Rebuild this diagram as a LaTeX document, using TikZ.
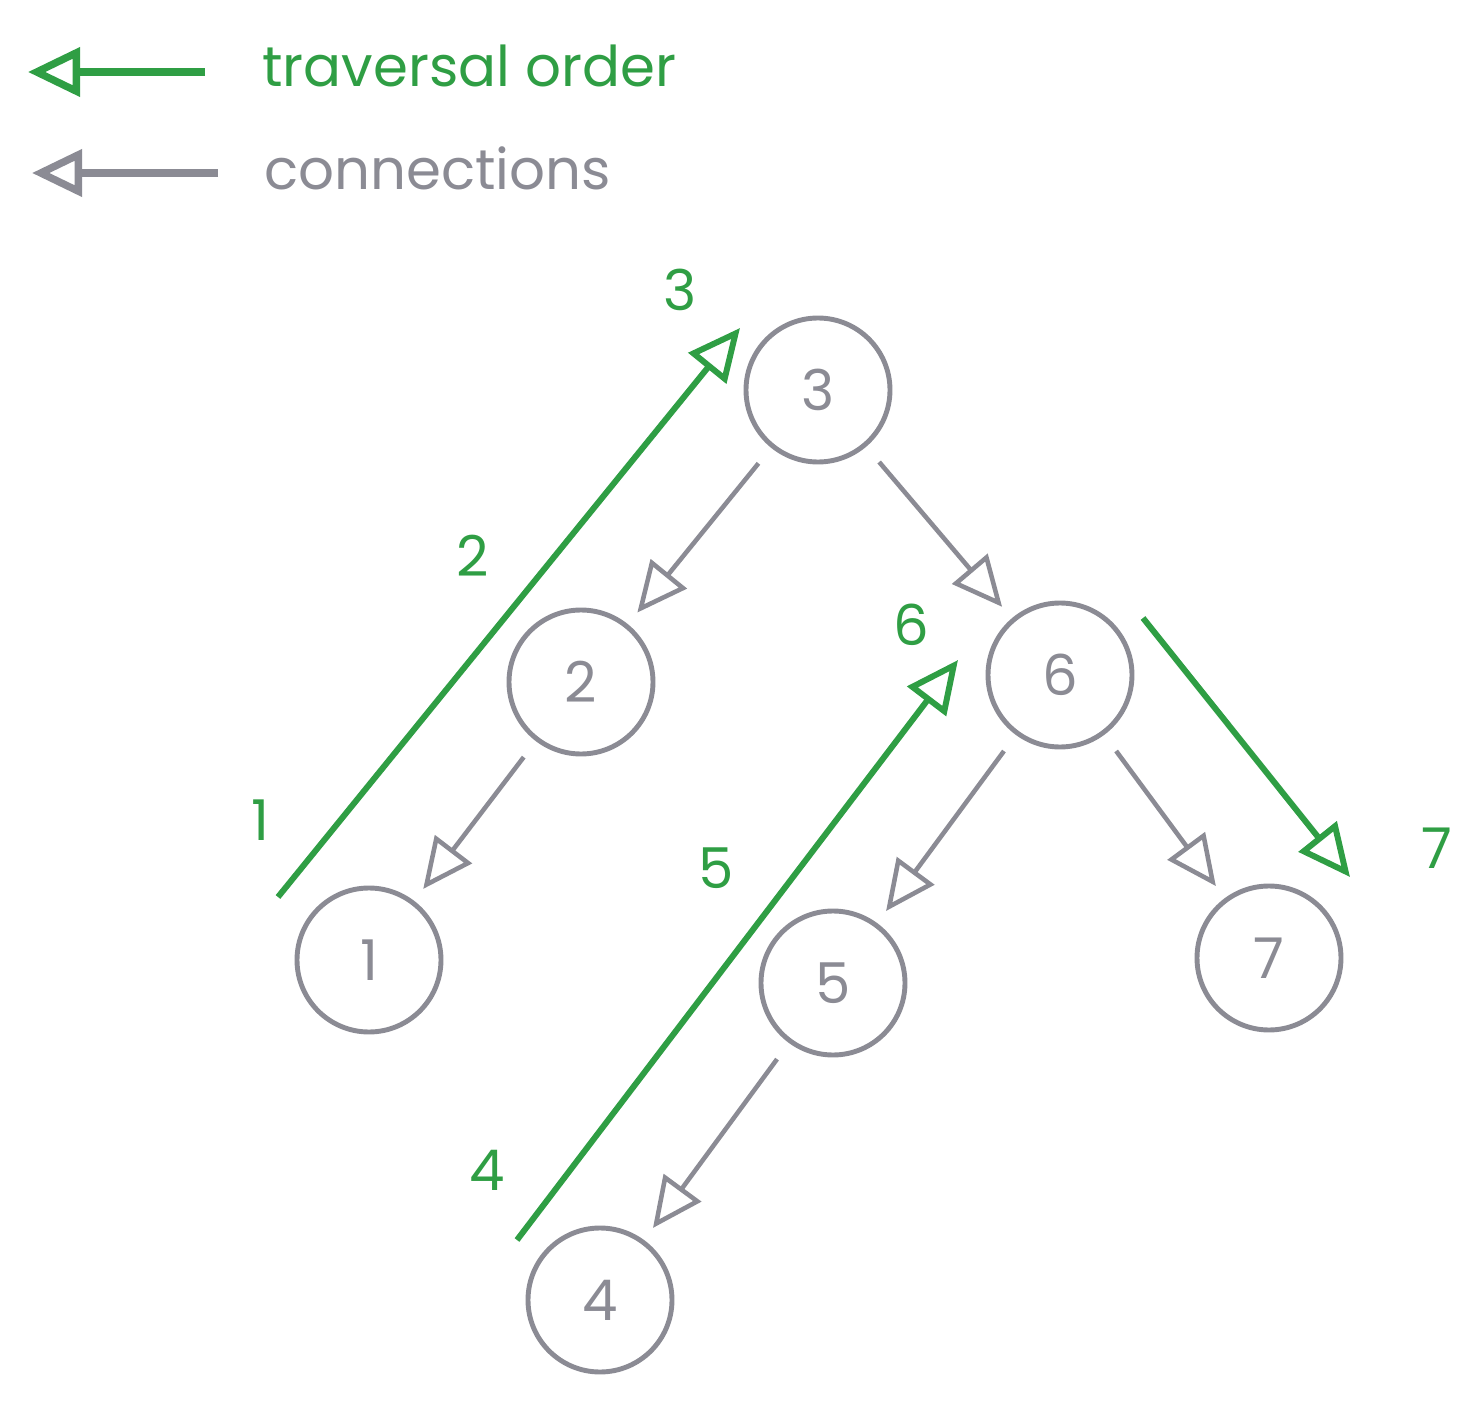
\documentclass[tikz,border=0pt]{standalone}
\usepackage{fontspec}
\setmainfont{Poppins}
\usetikzlibrary{arrows.meta}
\definecolor{travgreen}{RGB}{47,158,68}
\definecolor{conngray}{RGB}{139,139,148}

\begin{document}
\begin{tikzpicture}[y=-1cm,
    vert/.style={draw=conngray, line width=1.4pt, circle, minimum size=1.44cm, inner sep=0pt, text=conngray, font=\fontsize{16}{19}\selectfont},
    conn/.style={draw=conngray, line width=1.3pt, -{Triangle[open,length=0.5cm,width=0.46cm]}, shorten <=0.2cm, shorten >=0.15cm},
    trav/.style={draw=travgreen, line width=1.7pt, -{Triangle[open,length=0.52cm,width=0.48cm]}},
    num/.style={text=travgreen, font=\fontsize{16}{19}\selectfont},
    legend/.style={anchor=west, font=\fontsize{16}{19}\selectfont}]
    \useasboundingbox (0,0) rectangle (14.83,14.03);
    % legend
    \coordinate (lgA) at (2.05,0.72);
    \coordinate (lgB) at (0.28,0.72);
    \coordinate (lcA) at (2.18,1.73);
    \coordinate (lcB) at (0.32,1.73);
    \draw[trav, line width=2.1pt](lgA)--(lgB);
    \draw[conn, line width=2.1pt, shorten <=0pt, shorten >=0pt](lcA)--(lcB);
    \node[legend, text=travgreen] (ltrav) at (2.50,0.66) {traversal order};
    \node[legend, text=conngray] (lconn) at (2.52,1.68) {connections};
    % tree
    \node[vert] (n3) at (8.18,3.90) {3};
    \node[vert] (n2) at (5.81,6.82) {2};
    \node[vert] (n6) at (10.60,6.75) {6};
    \node[vert] (n1) at (3.69,9.60) {1};
    \node[vert] (n5) at (8.33,9.83) {5};
    \node[vert] (n7) at (12.69,9.58) {7};
    \node[vert] (n4) at (6.00,13.00) {4};
    \draw[conn](n3)--(n2);
    \draw[conn](n3)--(n6);
    \draw[conn](n2)--(n1);
    \draw[conn](n6)--(n5);
    \draw[conn](n6)--(n7);
    \draw[conn](n5)--(n4);
    % traversal
    \coordinate (t1s) at (2.78,8.97);
    \coordinate (t1e) at (7.40,3.28);
    \coordinate (t2s) at (5.17,12.40);
    \coordinate (t2e) at (9.58,6.60);
    \coordinate (t3s) at (11.43,6.18);
    \coordinate (t3e) at (13.50,8.77);
    \draw[trav](t1s)--(t1e);
    \draw[trav](t2s)--(t2e);
    \draw[trav](t3s)--(t3e);
    \node[num] (s1) at (2.60,8.20) {1};
    \node[num] (s2) at (4.73,5.56) {2};
    \node[num] (s3) at (6.80,2.90) {3};
    \node[num] (s4) at (4.87,11.70) {4};
    \node[num] (s5) at (7.16,8.68) {5};
    \node[num] (s6) at (9.11,6.25) {6};
    \node[num] (s7) at (14.37,8.48) {7};
\end{tikzpicture}
\end{document}
